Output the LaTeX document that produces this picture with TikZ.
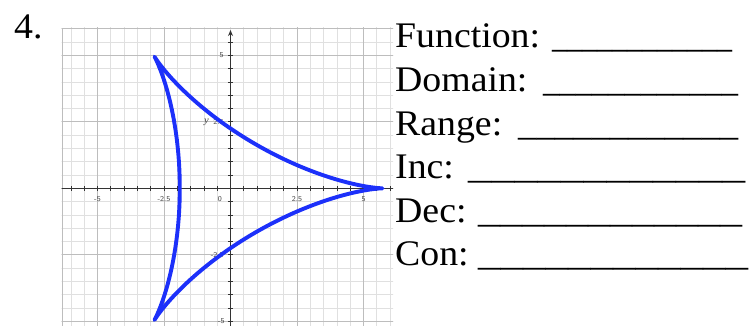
\documentclass[tikz,border=0pt]{standalone}
\usepackage{fontspec}
\setmainfont{Liberation Serif}[FakeStretch=1.05]
\usepackage{graphicx}
\usetikzlibrary{arrows.meta}
\definecolor{curveblue}{RGB}{28,48,250}
\newcommand{\blankline}[1]{\resizebox*{#1}{\totalheight}{\_\_\_\_\_\_\_\_\_\_\_\_}}
\tikzset{
  minorgrid/.style={draw=black!12, line width=0.8pt},
  majorgrid/.style={draw=black!26, line width=0.9pt},
  axisline/.style={draw=black!80, line width=1.2pt},
  tickmark/.style={draw=black!80, line width=0.8pt},
  ticklbl/.style={font=\sffamily\fontsize{7.5}{7.5}\selectfont, text=black!75, inner sep=0.5pt},
  curve/.style={draw=curveblue, line width=3.9pt, line join=round},
  lbl/.style={font=\fontsize{36}{40}\selectfont, inner sep=0pt, anchor=base west},
}
\begin{document}
\begin{tikzpicture}[x=1pt,y=-1pt]
\useasboundingbox (0,0) rectangle (753,325);
\node[lbl] (num) at (14,38) {4.};
\begin{scope}
\clip (61.7,27.3) rectangle (393,326);
\begin{scope}[shift={(230.5,188.3)},x=26.6pt,y=26.6pt]
  \foreach \i in {-13,...,13} \draw[minorgrid] (\i/2,-5.5) -- (\i/2,6.2);
  \foreach \j in {-11,...,12} \draw[minorgrid] (-6.5,\j/2) -- (6.5,\j/2);
  \foreach \i in {-5,-2.5,2.5,5} \draw[majorgrid] (\i,-5.5) -- (\i,6.2);
  \foreach \j in {-5,-2.5,2.5,5} \draw[majorgrid] (-6.5,\j) -- (6.5,\j);
  \draw[majorgrid] (-6.5,6) -- (6.5,6);
  \draw[majorgrid] (-6.33,-5.5) -- (-6.33,6);
  % axes
  \coordinate (xl) at (-6.5,0);
  \coordinate (xr) at (6.5,0);
  \coordinate (yb) at (0,-5.5);
  \coordinate (yt) at (0,5.95);
  \draw[axisline] (xl) -- (xr);
  \draw[axisline,-{Stealth[length=6pt,width=5pt]}] (yb) -- (yt);
  \foreach \i in {-12,...,12} \draw[tickmark] (\i/2,-0.1) -- (\i/2,0.1);
  \foreach \j in {-11,...,11} \draw[tickmark] (-0.1,\j/2) -- (0.1,\j/2);
  % tick labels
  \node[ticklbl] (xm5) at (-5,-0.4) {-5};
  \node[ticklbl] (xm25) at (-2.5,-0.4) {-2.5};
  \node[ticklbl] (x0) at (-0.4,-0.4) {0};
  \node[ticklbl] (x25) at (2.5,-0.4) {2.5};
  \node[ticklbl] (x5) at (5,-0.4) {5};
  \node[ticklbl] (y5) at (-0.33,5) {5};
  \node[ticklbl] (y25) at (-0.45,2.5) {2.5};
  \node[font=\itshape\fontsize{10}{10}\selectfont, text=black!75, inner sep=0pt] (ylab) at (-0.9,2.48) {y};
  \node[ticklbl] (ym25) at (-0.5,-2.5) {-2.5};
  \node[ticklbl] (ym5) at (-0.35,-5) {-5};
  % deltoid
  \draw[curve] plot[domain=0:360, samples=240, variable=\t]
    ({1.906*(2*cos(\t)+cos(2*\t))}, {1.906*(2*sin(\t)-sin(2*\t))}) -- cycle;
\end{scope}
\end{scope}
% text lines
\node[lbl] (fn) at (395,47) {Function:};
\node[lbl] (fnb) at (552,47) {\blankline{180pt}};
\node[lbl] (dm) at (395,91) {Domain:};
\node[lbl] (dmb) at (543,91) {\blankline{195pt}};
\node[lbl] (rg) at (395,135) {Range:};
\node[lbl] (rgb) at (518,135) {\blankline{220pt}};
\node[lbl] (inc) at (395,178) {Inc:};
\node[lbl] (incb) at (468,178) {\blankline{277pt}};
\node[lbl] (dec) at (395,222) {Dec:};
\node[lbl] (decb) at (478,222) {\blankline{264pt}};
\node[lbl] (con) at (395,265) {Con:};
\node[lbl] (conb) at (478,265) {\blankline{270pt}};
\end{tikzpicture}
\end{document}
